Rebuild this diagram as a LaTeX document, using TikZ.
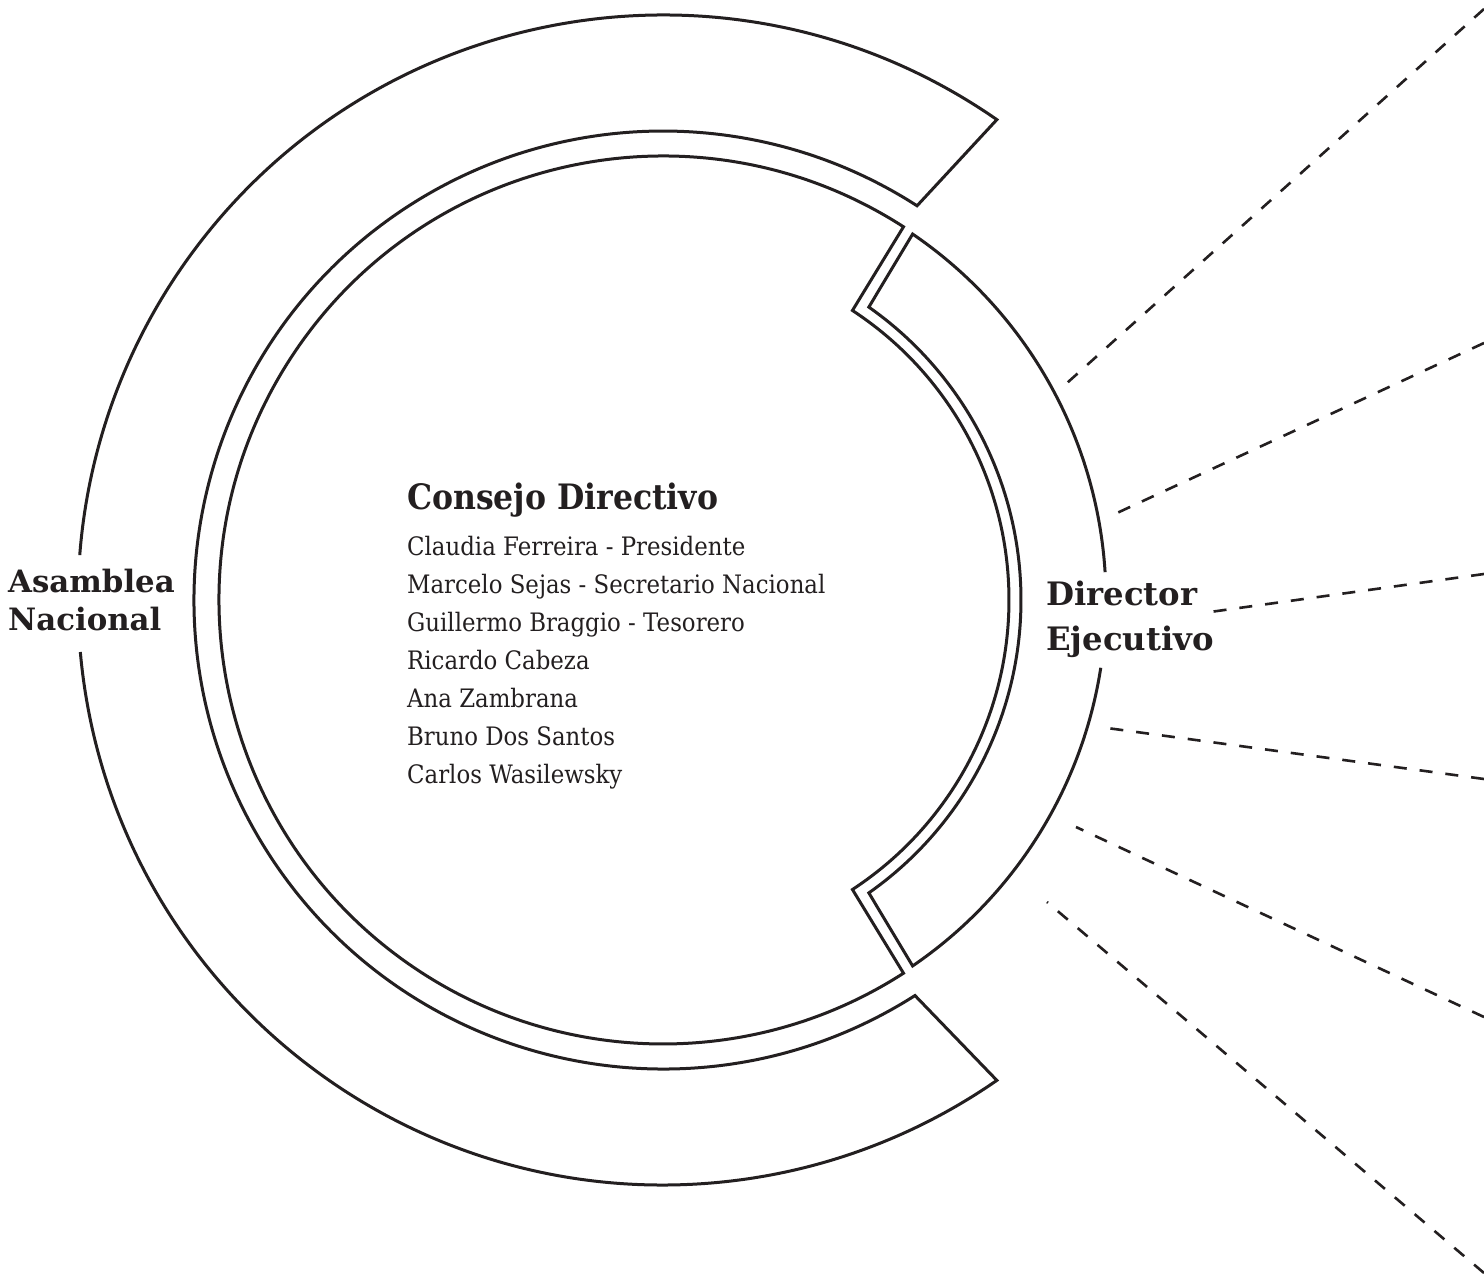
\documentclass[tikz,border=0pt]{standalone}
\usepackage{fontspec}
\setmainfont{DejaVu Serif}
\newfontfamily\narrowserif{DejaVu Serif}[FakeStretch=0.9]
\definecolor{ink}{HTML}{231F20}
\begin{document}
\begin{tikzpicture}[x=1pt,y=1pt,
  ringline/.style={draw=ink,line width=3pt,line join=miter,line cap=butt},
  dashline/.style={draw=ink,line width=2.6pt,dash pattern=on 13pt off 13pt},
  sidetxt/.style={anchor=base west,inner sep=0pt,text=ink,font=\bfseries\fontsize{30.8}{36}\selectfont},
  dirtxt/.style={anchor=base west,inner sep=0pt,text=ink,font=\bfseries\fontsize{32.3}{36}\selectfont},
  titletxt/.style={anchor=base west,inner sep=0pt,text=ink,font=\narrowserif\bfseries\fontsize{35}{40}\selectfont},
  listtxt/.style={anchor=base west,inner sep=0pt,text=ink,font=\narrowserif\fontsize{25.4}{38}\selectfont}]
\useasboundingbox (-663,-675) rectangle (821,600);
\fill[white] (-663,-675) rectangle (821,600);
% Asamblea Nacional ring
\draw[ringline] (185.1:585) arc[start angle=185.1,end angle=304.8,radius=585]
  -- (302.5:469) arc[start angle=302.5,end angle=57.2,radius=469]
  -- (55.2:585) arc[start angle=55.2,end angle=175.6,radius=585];
% Consejo Directivo
\draw[ringline] (57.2:444) arc[start angle=57.2,end angle=302.8,radius=444]
  -- (-56.8:346) arc[start angle=-56.8,end angle=56.8,radius=346] -- cycle;
% Director Ejecutivo
\draw[ringline] (-8.8:443) arc[start angle=-8.8,end angle=-55.7,radius=443]
  -- (-54.9:358) arc[start angle=-54.9,end angle=54.9,radius=358]
  -- (55.7:443) arc[start angle=55.7,end angle=3.6,radius=443];
% texts
\node[titletxt] (cd) at (-256,90) {Consejo Directivo};
\node[listtxt] (m1) at (-256,45) {Claudia Ferreira - Presidente};
\node[listtxt] (m2) at (-256,7) {Marcelo Sejas - Secretario Nacional};
\node[listtxt] (m3) at (-256,-31) {Guillermo Braggio - Tesorero};
\node[listtxt] (m4) at (-256,-69) {Ricardo Cabeza};
\node[listtxt] (m5) at (-256,-107) {Ana Zambrana};
\node[listtxt] (m6) at (-256,-145) {Bruno Dos Santos};
\node[listtxt] (m7) at (-256,-183) {Carlos Wasilewsky};
\node[sidetxt] (an1) at (-655,8) {Asamblea};
\node[sidetxt] (an2) at (-655,-30) {Nacional};
\node[dirtxt] (de1) at (383,-5) {Director};
\node[dirtxt] (de2) at (383,-50) {Ejecutivo};
% dashed connectors
\coordinate (s1) at (404,217); \coordinate (e1) at (821,591);
\coordinate (s2) at (454,87);  \coordinate (e2) at (821,257);
\coordinate (s3) at (547,-12); \coordinate (e3) at (821,26);
\coordinate (s4) at (444,-128); \coordinate (e4) at (821,-179);
\coordinate (s5) at (413,-227); \coordinate (e5) at (821,-417);
\coordinate (s6) at (384,-302); \coordinate (e6) at (821,-673);
\foreach \i in {1,...,6} {\draw[dashline] (e\i) -- (s\i);}
\end{tikzpicture}
\end{document}
